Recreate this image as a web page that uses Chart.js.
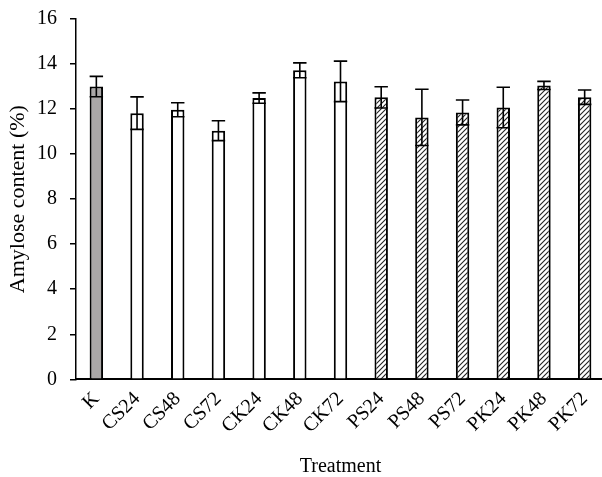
<!DOCTYPE html>
<html>
<head>
<meta charset="utf-8">
<script src="https://cdn.jsdelivr.net/npm/chart.js@4"></script>
<style>
  html, body { margin: 0; padding: 0; background: #fff; overflow: hidden; }
  #wrap { width: 606px; height: 477px; position: relative; }
</style>
</head>
<body>
<div id="wrap"><canvas id="myChart"></canvas></div>
<script>
const ctx = document.getElementById('myChart').getContext('2d');

// data
const treatments = ['K', 'CS24', 'CS48', 'CS72', 'CK24', 'CK48', 'CK72', 'PS24', 'PS48', 'PS72', 'PK24', 'PK48', 'PK72'];
const amylose = [13.0, 11.82, 11.97, 11.04, 12.49, 13.72, 13.23, 12.52, 11.63, 11.85, 12.07, 13.05, 12.53];
const amyloseSd = [0.45, 0.72, 0.31, 0.44, 0.23, 0.33, 0.9, 0.47, 1.25, 0.55, 0.9, 0.18, 0.32];
const yMin = 0, yMax = 16, yStep = 2;

const serif = "'Liberation Serif', 'Times New Roman', serif";

// diagonal hatch for the P treatments
const makeHatch = () => {
    const c = document.createElement('canvas');
    c.width = 5; c.height = 5;
    const g = c.getContext('2d');
    g.fillStyle = '#fff';
    g.fillRect(0, 0, 5, 5);
    g.strokeStyle = '#222';
    g.lineWidth = 1.1;
    g.beginPath();
    g.moveTo(0, 5); g.lineTo(5, 0);
    g.moveTo(-1, 1); g.lineTo(1, -1);
    g.moveTo(4, 6); g.lineTo(6, 4);
    g.stroke();
    return ctx.createPattern(c, 'repeat');
};
const hatch = makeHatch();

const fills = treatments.map(t => {
    if (t === 'K') return '#aaa7a7';
    if (t[0] === 'P') return hatch;
    return '#ffffff';
});

// error bars drawn through the y scale
const errorBars = {
    id: 'errorBars',
    afterDatasetsDraw(chart) {
        const meta = chart.getDatasetMeta(0);
        const y = chart.scales.y;
        const c = chart.ctx;
        c.save();
        c.strokeStyle = '#000';
        c.lineWidth = 1.6;
        meta.data.forEach((bar, i) => {
            const hi = y.getPixelForValue(amylose[i] + amyloseSd[i]);
            const lo = y.getPixelForValue(amylose[i] - amyloseSd[i]);
            const half = bar.width / 2;
            c.beginPath();
            c.moveTo(bar.x, hi); c.lineTo(bar.x, lo);
            c.moveTo(bar.x - half, hi); c.lineTo(bar.x + half, hi);
            c.moveTo(bar.x - half, lo); c.lineTo(bar.x + half, lo);
            c.stroke();
        });
        c.restore();
    }
};

const config = {
    type: 'bar',
    data: {
        labels: treatments,
        datasets: [{
            data: amylose,
            backgroundColor: fills,
            borderColor: '#000',
            borderWidth: 2,
            barPercentage: 0.33,
            categoryPercentage: 1
        }]
    },
    options: {
        responsive: true,
        maintainAspectRatio: false,
        animation: false,
        layout: { padding: { top: 19, right: 1, bottom: 0, left: 0 } },
        plugins: { legend: { display: false }, tooltip: { enabled: false } },
        scales: {
            x: {
                grid: { display: false },
                border: { color: '#000', width: 2 },
                ticks: {
                    color: '#000',
                    font: { family: serif, size: 20 },
                    minRotation: 45,
                    maxRotation: 45,
                    padding: 0
                },
                title: {
                    display: true,
                    text: 'Treatment',
                    color: '#000',
                    font: { family: serif, size: 20 },
                    padding: { top: 0, bottom: -2 }
                },
                afterFit: s => { s.height = 97.7; }
            },
            y: {
                min: yMin,
                max: yMax,
                grid: { drawOnChartArea: false, drawTicks: true, tickLength: 6, color: '#000', lineWidth: 1.5 },
                border: { color: '#000', width: 1.5 },
                ticks: {
                    stepSize: yStep,
                    color: '#000',
                    font: { family: serif, size: 20 },
                    padding: 13
                },
                title: {
                    display: true,
                    text: 'Amylose content (%)',
                    color: '#000',
                    font: { family: serif, size: 22 },
                    padding: { top: 5, bottom: 0 }
                },
                afterFit: s => {
                    s.width = 76;
                    s.paddingTop = 6;
                    s.paddingBottom = 6;
                }
            }
        }
    },
    plugins: [errorBars]
};

const myChart = new Chart(ctx, config);
</script>
</body>
</html>
